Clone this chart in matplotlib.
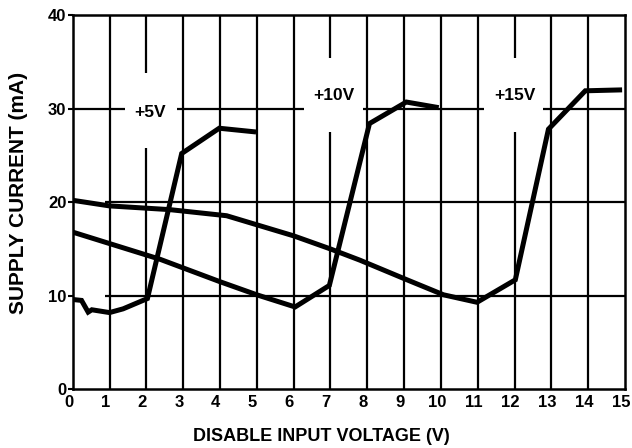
import matplotlib
matplotlib.use("Agg")
import matplotlib.pyplot as plt
from matplotlib.patches import Rectangle
from matplotlib.transforms import ScaledTranslation

plt.rcParams["font.family"] = ["Liberation Sans", "DejaVu Sans"]
plt.rcParams["font.weight"] = "bold"

# supply current vs disable input voltage, one curve per supply
v5_x = [0.0, 0.24, 0.42, 0.52, 1.0, 1.37, 2.03, 2.96, 3.98, 4.98]
v5_y = [9.6, 9.5, 8.25, 8.5, 8.2, 8.6, 9.7, 25.2, 27.9, 27.5]

v10_x = [0.0, 2.37, 4.0, 5.0, 6.04, 6.97, 8.06, 9.06, 9.94]
v10_y = [16.8, 13.9, 11.5, 10.1, 8.8, 11.1, 28.4, 30.7, 30.1]

v15_x = [0.0, 1.0, 2.64, 4.18, 6.0, 7.0, 7.8, 9.08, 10.07, 10.98, 12.02, 12.92, 13.92, 14.92]
v15_y = [20.2, 19.6, 19.2, 18.55, 16.4, 15.0, 13.8, 11.7, 10.1, 9.3, 11.7, 27.8, 31.9, 32.0]

curve_labels = ["+5V", "+10V", "+15V"]
label_x = [2.09, 7.1, 12.0]
label_y = [29.6, 31.4, 31.4]

x_ticks = list(range(0, 16))
y_ticks = [0, 10, 20, 30, 40]

fig = plt.figure(figsize=(6.32, 4.48), dpi=100)
ax = fig.add_axes([0.115, 0.131, 0.874, 0.8355])
ax.set_xlim(0, 15)
ax.set_ylim(0, 40)

grid_kw = dict(color="black", lw=1.6, zorder=1)
for x in x_ticks[1:-1]:
    ax.axvline(x, **grid_kw)
ax.hlines([10, 20], 0.88, 15, **grid_kw)
ax.axhline(30, **grid_kw)

# white gaps in the grid behind the labels
gaps = [(1.42, 25.8, 1.42, 8.0), (6.27, 27.5, 1.61, 7.9), (11.17, 27.5, 1.6, 7.9)]
for gx, gy, gw, gh in gaps:
    ax.add_patch(Rectangle((gx, gy), gw, gh, facecolor="white",
                           edgecolor="none", zorder=2))

for xs, ys in [(v5_x, v5_y), (v10_x, v10_y), (v15_x, v15_y)]:
    ax.plot(xs, ys, color="black", lw=3.6, solid_joinstyle="miter",
            solid_capstyle="butt", zorder=3)

for txt, tx, ty in zip(curve_labels, label_x, label_y):
    ax.text(tx, ty, txt, fontsize=12.5, fontweight="bold",
            ha="center", va="center", zorder=4)

for s in ax.spines.values():
    s.set_linewidth(1.8)

ax.set_xticks(x_ticks)
ax.set_yticks(y_ticks)
ax.tick_params(axis="x", length=0, pad=4, labelsize=12)
ax.tick_params(axis="y", length=3.5, width=1.5, pad=1, labelsize=12)
shift = ScaledTranslation(-3 / 72, 0, fig.dpi_scale_trans)
for lab in ax.get_xticklabels():
    lab.set_transform(lab.get_transform() + shift)
for lab in ax.get_xticklabels() + ax.get_yticklabels():
    lab.set_fontweight("bold")

fig.text(0.508, 0.025, "DISABLE INPUT VOLTAGE (V)", fontsize=13,
         fontweight="bold", ha="center", va="center")
fig.text(0.03, 0.57, "SUPPLY CURRENT (mA)", fontsize=15,
         fontweight="bold", ha="center", va="center", rotation=90)

fig.savefig("out.png", dpi=100)
